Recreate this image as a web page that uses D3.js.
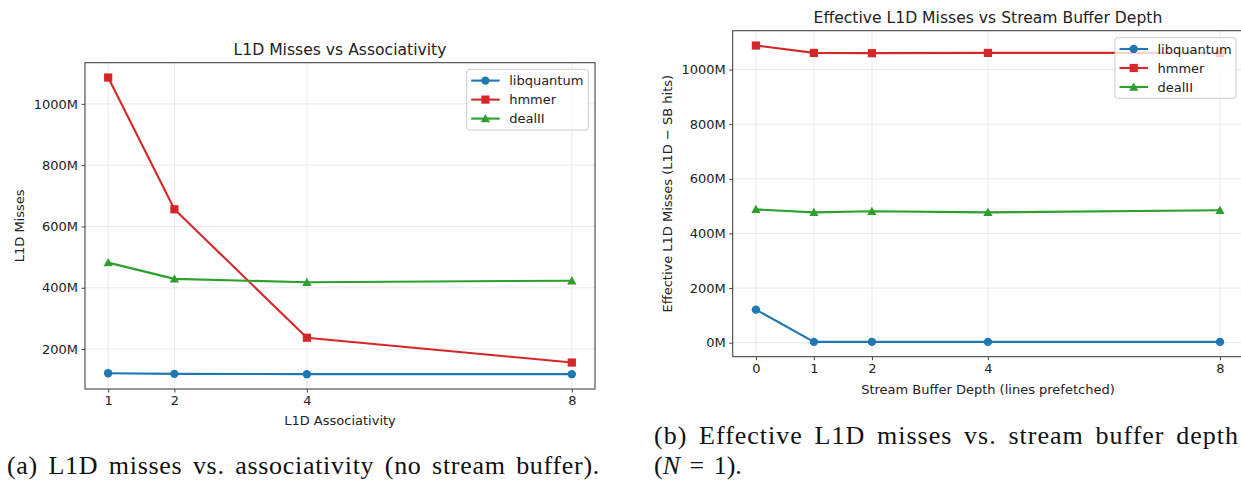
<!DOCTYPE html>
<html>
<head>
<meta charset="utf-8">
<script src="https://cdn.jsdelivr.net/npm/d3@7"></script>
<style>
  html, body { margin: 0; padding: 0; background: #fff; }
  svg { display: block; }
</style>
</head>
<body>
<svg id="chart" width="1241" height="480"></svg>
<script>
// ---- Data (values in millions of misses) ----
const seriesLabels = ["libquantum", "hmmer", "dealII"];

// (a) L1D misses vs associativity
const associativity = [1, 2, 4, 8];
const libquantumAssoc = [121, 119, 118, 118];
const hmmerAssoc = [1086, 656, 237, 156];
const dealIIAssoc = [482, 429, 418, 423];
const assocYTicks = [200, 400, 600, 800, 1000];

// (b) Effective L1D misses vs stream buffer depth
const sbDepth = [0, 1, 2, 4, 8];
const libquantumSB = [121, 3, 3, 3, 3];
const hmmerSB = [1088, 1061, 1060, 1061, 1061];
const dealIISB = [488, 477, 481, 477, 485];
const sbYTicks = [0, 200, 400, 600, 800, 1000];

const colors = ["#1f77b4", "#d62728", "#2ca02c"];
const markers = ["circle", "square", "triangle"];

const svg = d3.select("#chart");
const FONT = "DejaVu Sans, sans-serif";
const TICK_FS = 13;
const TITLE_FS = 15.6;

function drawMarker(g, type, x, y, color) {
  if (type === "circle") {
    g.append("circle").attr("cx", x).attr("cy", y).attr("r", 4.2).attr("fill", color);
  } else if (type === "square") {
    g.append("rect").attr("x", x - 4.1).attr("y", y - 4.1).attr("width", 8.2).attr("height", 8.2).attr("fill", color);
  } else {
    const s = 4.6;
    g.append("path").attr("d", `M${x},${y - s}L${x + s},${y + s * 0.8}L${x - s},${y + s * 0.8}Z`).attr("fill", color);
  }
}

function panel(cfg) {
  const { xVals, series, yTicks, left, right, top, bottom, title, xLabel, yLabel,
          yLabelX, titleY, xLabelY, legend } = cfg;
  const g = svg.append("g");

  const all = series.flat();
  const lo = d3.min(all), hi = d3.max(all);
  const m = (hi - lo) * 0.05;
  const xlo = d3.min(xVals), xhi = d3.max(xVals);
  const xm = (xhi - xlo) * 0.05;

  const x = d3.scaleLinear().domain([xlo - xm, xhi + xm]).range([left, right]);
  const y = d3.scaleLinear().domain([lo - m, hi + m]).range([bottom, top]);

  const clipId = "clip" + Math.round(left);
  svg.append("clipPath").attr("id", clipId).append("rect")
    .attr("x", left).attr("y", top).attr("width", right - left).attr("height", bottom - top);

  // grid
  const grid = g.append("g");
  xVals.forEach(v => grid.append("line")
    .attr("x1", x(v)).attr("x2", x(v)).attr("y1", top).attr("y2", bottom)
    .attr("stroke", "#b0b0b0").attr("stroke-opacity", 0.3).attr("stroke-width", 0.9));
  yTicks.forEach(v => grid.append("line")
    .attr("x1", left).attr("x2", right).attr("y1", y(v)).attr("y2", y(v))
    .attr("stroke", "#b0b0b0").attr("stroke-opacity", 0.3).attr("stroke-width", 0.9));

  // axes
  const xAxis = d3.axisBottom(x).tickValues(xVals).tickSize(3.5).tickPadding(3.5).tickFormat(d3.format("d"));
  const yAxis = d3.axisLeft(y).tickValues(yTicks).tickSize(3.5).tickPadding(3.5).tickFormat(d => d + "M");

  const gx = g.append("g").attr("transform", `translate(0,${bottom})`).call(xAxis);
  const gy = g.append("g").attr("transform", `translate(${left},0)`).call(yAxis);
  [gx, gy].forEach(a => {
    a.select(".domain").remove();
    a.selectAll(".tick line").attr("stroke", "#333").attr("stroke-width", 0.9);
    a.selectAll(".tick text").attr("font-family", FONT).attr("font-size", TICK_FS).attr("fill", "#222");
  });

  // frame
  g.append("rect").attr("x", left).attr("y", top).attr("width", right - left).attr("height", bottom - top)
    .attr("fill", "none").attr("stroke", "#333").attr("stroke-width", 1);

  // lines + markers
  const plot = g.append("g").attr("clip-path", `url(#${clipId})`);
  const line = d3.line().x((d, i) => x(xVals[i])).y(d => y(d));
  series.forEach((s, k) => {
    plot.append("path").datum(s).attr("d", line).attr("fill", "none")
      .attr("stroke", colors[k]).attr("stroke-width", 2.1).attr("stroke-linejoin", "round");
    s.forEach((v, i) => drawMarker(plot, markers[k], x(xVals[i]), y(v), colors[k]));
  });

  // title and labels
  const cx = (left + right) / 2;
  g.append("text").attr("x", cx).attr("y", titleY).attr("text-anchor", "middle")
    .attr("font-family", FONT).attr("font-size", TITLE_FS).attr("fill", "#222").text(title);
  g.append("text").attr("x", cx).attr("y", xLabelY).attr("text-anchor", "middle")
    .attr("font-family", FONT).attr("font-size", TICK_FS).attr("fill", "#222").text(xLabel);
  g.append("text").attr("transform", `translate(${yLabelX},${(top + bottom) / 2}) rotate(-90)`)
    .attr("text-anchor", "middle").attr("font-family", FONT).attr("font-size", TICK_FS)
    .attr("fill", "#222").text(yLabel);

  // legend
  const lg = g.append("g");
  lg.append("rect").attr("x", legend.x).attr("y", legend.y).attr("width", legend.w).attr("height", legend.h)
    .attr("rx", 2.5).attr("fill", "#fff").attr("fill-opacity", 0.8)
    .attr("stroke", "#cccccc").attr("stroke-width", 1);
  seriesLabels.forEach((name, k) => {
    const ry = legend.y + 11.3 + k * 19;
    const hx = legend.x + 4.5;
    lg.append("line").attr("x1", hx).attr("x2", hx + 28.5).attr("y1", ry).attr("y2", ry)
      .attr("stroke", colors[k]).attr("stroke-width", 2.1);
    drawMarker(lg, markers[k], hx + 14.2, ry, colors[k]);
    lg.append("text").attr("x", legend.x + 42.5).attr("y", ry + 4.6)
      .attr("font-family", FONT).attr("font-size", TICK_FS).attr("fill", "#222").text(name);
  });
}

panel({
  xVals: associativity,
  series: [libquantumAssoc, hmmerAssoc, dealIIAssoc],
  yTicks: assocYTicks,
  left: 85, right: 595, top: 62.7, bottom: 389,
  title: "L1D Misses vs Associativity",
  xLabel: "L1D Associativity",
  yLabel: "L1D Misses",
  yLabelX: 23.5, titleY: 55, xLabelY: 425,
  legend: { x: 466.7, y: 69.3, w: 121.6, h: 60.7 }
});

panel({
  xVals: sbDepth,
  series: [libquantumSB, hmmerSB, dealIISB],
  yTicks: sbYTicks,
  left: 732.7, right: 1243.2, top: 30.7, bottom: 356.7,
  title: "Effective L1D Misses vs Stream Buffer Depth",
  xLabel: "Stream Buffer Depth (lines prefetched)",
  yLabel: "Effective L1D Misses (L1D \u2212 SB hits)",
  yLabelX: 672, titleY: 23.3, xLabelY: 393.5,
  legend: { x: 1115, y: 37.7, w: 121, h: 60.6 }
});

// captions: fit widths by measuring, then widening spacing
const CAP_FONT = "Liberation Serif, DejaVu Serif, serif";
function fitText(t, target) {
  const w = t.node().getComputedTextLength();
  const str = t.text();
  const spaces = (str.match(/ /g) || []).length;
  const extra = target - w;
  if (extra <= 0) return;
  const ls = extra * 0.6 / (str.length - 1);
  t.attr("letter-spacing", ls);
  const w2 = t.node().getComputedTextLength();
  t.attr("word-spacing", Math.max(0, (target - w2) / spaces));
}
const capA = svg.append("text").attr("x", 7).attr("y", 474).attr("font-family", CAP_FONT)
  .attr("font-size", 26).attr("fill", "#111")
  .text("(a) L1D misses vs. associativity (no stream buffer).");
fitText(capA, 593);

const capB1 = svg.append("text").attr("x", 654).attr("y", 443.5).attr("font-family", CAP_FONT)
  .attr("font-size", 26).attr("fill", "#111")
  .text("(b) Effective L1D misses vs. stream buffer depth");
fitText(capB1, 585);

const capB2 = svg.append("text").attr("x", 654).attr("y", 473.5).attr("font-family", CAP_FONT)
  .attr("font-size", 26).attr("fill", "#111");
capB2.append("tspan").text("(");
capB2.append("tspan").attr("font-style", "italic").text("N");
capB2.append("tspan").text(" = 1).");
capB2.attr("word-spacing", 3);
</script>
</body>
</html>
